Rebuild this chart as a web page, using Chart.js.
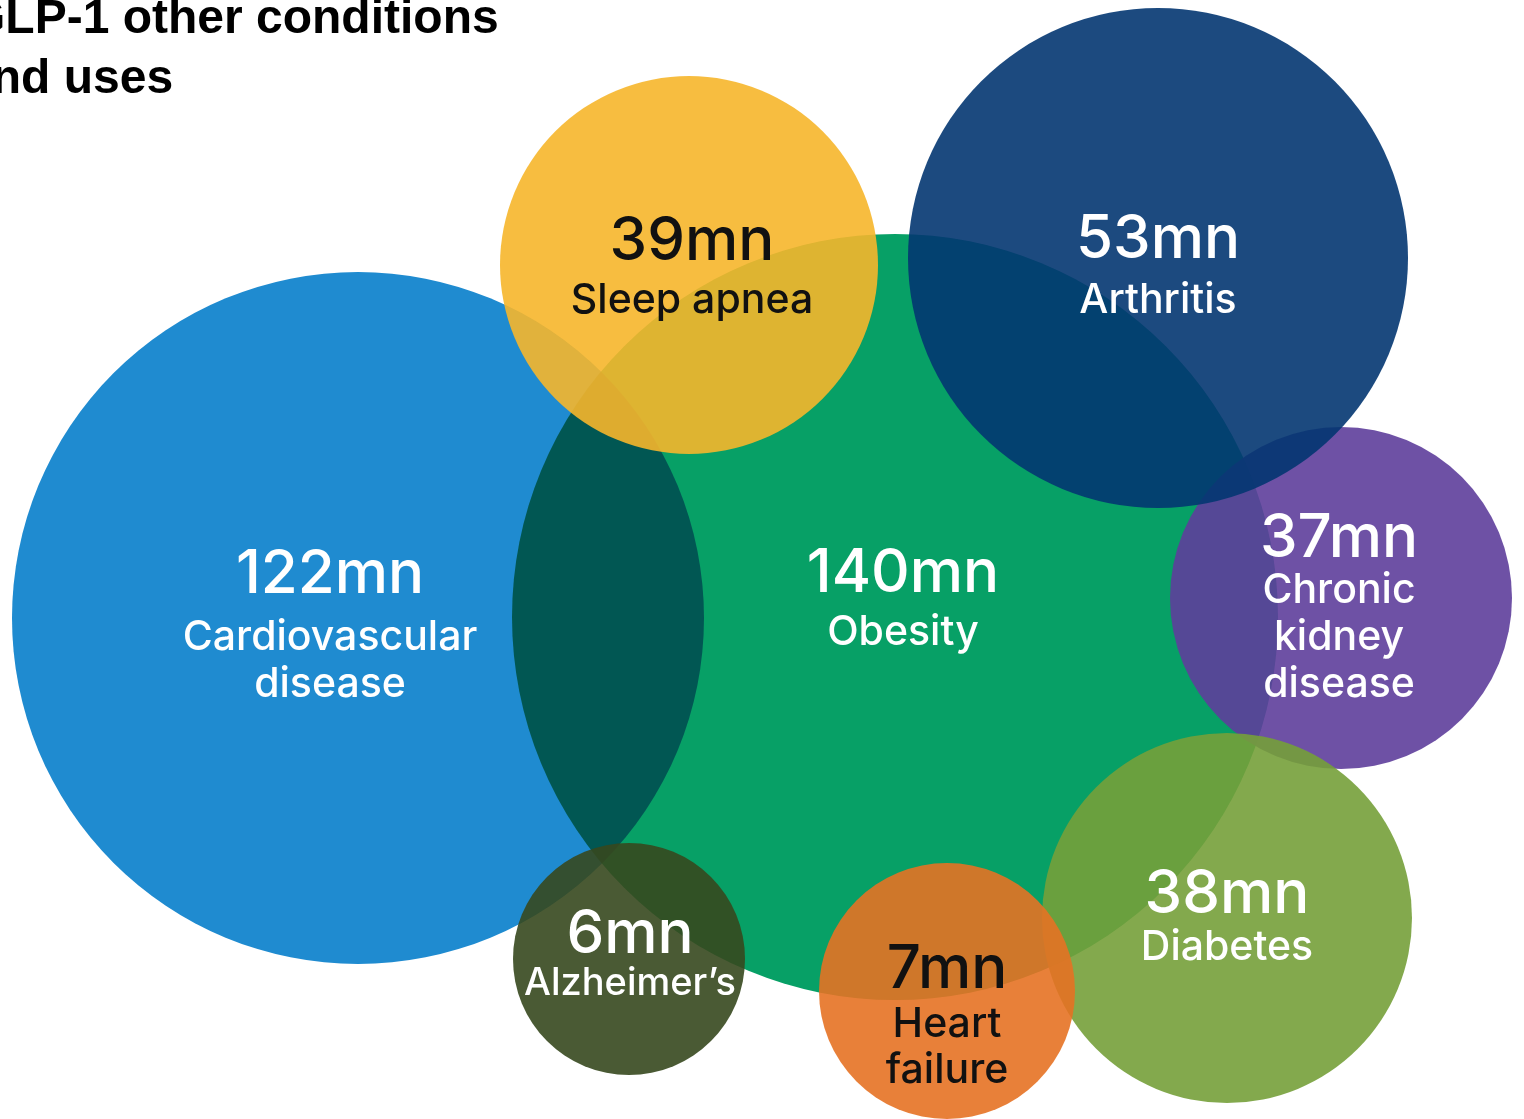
<!DOCTYPE html>
<html>
<head>
<meta charset="utf-8">
<title>GLP-1 other conditions and uses</title>
<script src="https://cdn.jsdelivr.net/npm/chart.js@4/dist/chart.umd.min.js"></script>
<style>
  html, body { margin: 0; padding: 0; background: #fff; overflow: hidden; }
  #wrap { position: relative; width: 1524px; height: 1119px; }
</style>
</head>
<body>
<div id="wrap"><canvas id="bubbles"></canvas></div>
<script>
// bubbles listed bottom layer first
const conditions = ['Cardiovascular disease', 'Obesity', 'Sleep apnea', 'Chronic kidney disease',
                    'Arthritis', 'Diabetes', 'Heart failure', 'Alzheimer’s'];
const labelLines = [['Cardiovascular', 'disease'], ['Obesity'], ['Sleep apnea'], ['Chronic', 'kidney', 'disease'],
                    ['Arthritis'], ['Diabetes'], ['Heart', 'failure'], ['Alzheimer’s']];
const patientsMn = [122, 140, 39, 37, 53, 38, 7, 6];

// bubble layout (x, y on the 1524 x 1119 board, radius in px)
const centreX = [358, 895, 689, 1341, 1158, 1227, 947, 629];
const centreY = [618, 617, 265, 598, 258, 918, 991, 959];
const radius  = [346, 383, 189, 171, 250, 185, 128, 116];

const fills = ['#1f8bd0', '#07a066', 'rgba(246,182,43,0.9)', 'rgba(94,62,155,0.9)',
               'rgba(3,54,113,0.9)', 'rgba(117,160,58,0.9)', 'rgba(229,114,36,0.9)', 'rgba(54,72,30,0.9)'];
const blendModes = ['source-over', 'multiply', 'source-over', 'source-over',
                    'source-over', 'source-over', 'source-over', 'source-over'];
const textColours = ['#fff', '#fff', '#111', '#fff', '#fff', '#fff', '#111', '#fff'];

// text placement inside each bubble: baseline of the value, then gap to the first label line
const labelPos = [
  { dx: -28, dy: -25, gap: 57, lead: 47, size: 41 },
  { dx: 8, dy: -25, gap: 53, lead: 47, size: 41 },
  { dx: 3, dy: -5, gap: 53, lead: 47, size: 41 },
  { dx: -2, dy: -41, gap: 46, lead: 47, size: 41 },
  { dx: 0, dy: 0, gap: 55, lead: 47, size: 41 },
  { dx: 0, dy: -5, gap: 47, lead: 47, size: 41 },
  { dx: 0, dy: -3, gap: 49, lead: 46, size: 41 },
  { dx: 1, dy: -6, gap: 42, lead: 47, size: 38 }
];

const datasets = conditions.map((name, i) => ({
  label: name,
  data: [{ x: centreX[i], y: centreY[i], r: radius[i] }],
  backgroundColor: fills[i],
  borderWidth: 0,
  hoverBorderWidth: 0,
  hoverRadius: 0,
  clip: false,
  order: conditions.length - i
}));

const blendPlugin = {
  id: 'blend',
  beforeDatasetDraw(chart, args) {
    chart.ctx.save();
    chart.ctx.globalCompositeOperation = blendModes[args.index];
  },
  afterDatasetDraw(chart) {
    chart.ctx.restore();
  }
};

const bubbleLabels = {
  id: 'bubbleLabels',
  afterDatasetsDraw(chart) {
    const ctx = chart.ctx;
    ctx.save();
    ctx.textAlign = 'center';
    ctx.textBaseline = 'alphabetic';
    conditions.forEach((name, i) => {
      const el = chart.getDatasetMeta(i).data[0];
      const p = labelPos[i];
      const x = el.x + p.dx;
      let y = el.y + p.dy;
      ctx.fillStyle = textColours[i];
      ctx.font = '500 60px Inter, "Noto Sans", sans-serif';
      ctx.fillText(patientsMn[i] + 'mn', x, y);
      ctx.font = '500 ' + p.size + 'px Inter, "Noto Sans", sans-serif';
      y += p.gap;
      labelLines[i].forEach(line => {
        ctx.fillText(line, x, y);
        y += p.lead;
      });
    });
    // heading, running off the left edge
    ctx.textAlign = 'left';
    ctx.fillStyle = '#000';
    ctx.font = 'bold 48px "Liberation Sans", Arial, sans-serif';
    ctx.fillText('GLP-1 other conditions', -32, 33);
    ctx.fillText('and uses', -35, 93);
    ctx.restore();
  }
};

new Chart(document.getElementById('bubbles'), {
  type: 'bubble',
  data: { datasets },
  options: {
    responsive: true,
    maintainAspectRatio: false,
    animation: false,
    events: [],
    layout: { padding: 0, autoPadding: false },
    scales: {
      x: { type: 'linear', min: 0, max: 1524, display: false },
      y: { type: 'linear', min: 0, max: 1119, reverse: true, display: false }
    },
    plugins: {
      legend: { display: false },
      tooltip: { enabled: false },
      title: { display: false }
    }
  },
  plugins: [blendPlugin, bubbleLabels]
});
</script>
</body>
</html>
